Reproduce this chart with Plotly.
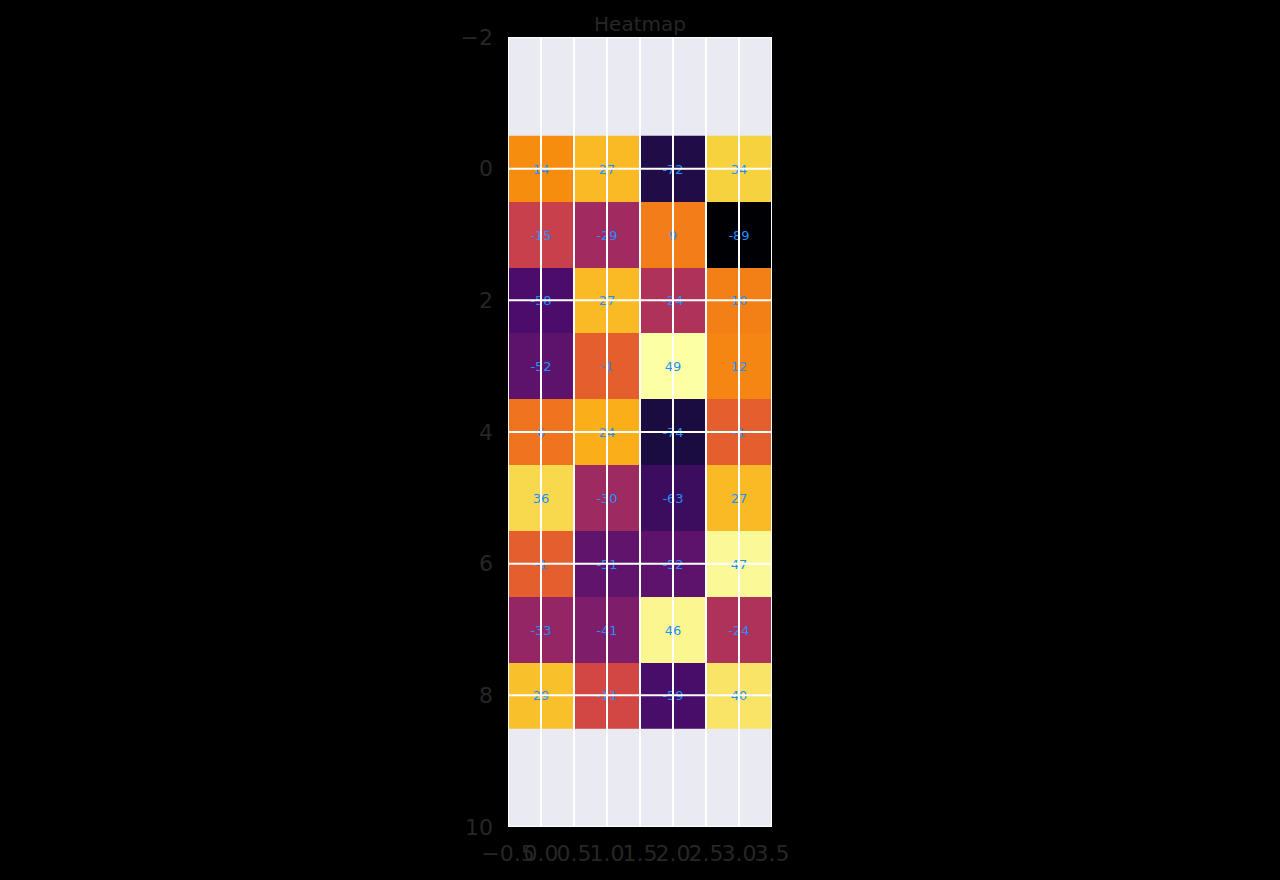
import plotly.graph_objects as go

# Data: 9 rows x 4 columns
row_index = [0, 1, 2, 3, 4, 5, 6, 7, 8]
col_index = [0, 1, 2, 3]
values = [
    [14, 27, -72, 34],
    [-15, -29, 9, -89],
    [-58, 27, -24, 10],
    [-52, -1, 49, 12],
    [6, 24, -74, -1],
    [36, -30, -63, 27],
    [-1, -51, -52, 47],
    [-33, -41, 46, -24],
    [29, -11, -59, 40],
]
x_ticks = [-0.5, 0.0, 0.5, 1.0, 1.5, 2.0, 2.5, 3.0, 3.5]
y_ticks = [-2, 0, 2, 4, 6, 8, 10]

labels = [[str(v) for v in row] for row in values]

FONT = "DejaVu Sans"
TICK_COLOR = "#262626"

fig = go.Figure()
fig.add_trace(go.Heatmap(
    z=values,
    x=col_index,
    y=row_index,
    text=labels,
    texttemplate="%{text}",
    textfont=dict(family=FONT, size=13, color="#1e90ff"),
    colorscale="Inferno",
    zmin=min(min(r) for r in values),
    zmax=max(max(r) for r in values),
    showscale=False,
    hoverinfo="skip",
))

# gridlines drawn above the cells (as in the reference)
shapes = []
for xv in x_ticks:
    shapes.append(dict(type="line", xref="x", yref="paper", x0=xv, x1=xv, y0=0, y1=1,
                       line=dict(color="white", width=2), layer="above"))
for yv in y_ticks:
    shapes.append(dict(type="line", xref="paper", yref="y", x0=0, x1=1, y0=yv, y1=yv,
                       line=dict(color="white", width=2), layer="above"))

fig.update_layout(
    width=1280, height=880,
    paper_bgcolor="black",
    plot_bgcolor="#eaeaf2",
    margin=dict(l=508, r=508, t=37, b=53, autoexpand=False),
    title=dict(text="Heatmap", x=0.5, xanchor="center", y=0.973, yanchor="middle",
               font=dict(family=FONT, size=20, color=TICK_COLOR)),
    font=dict(family=FONT, color=TICK_COLOR),
    shapes=shapes,
    xaxis=dict(range=[-0.5, 3.5], tickvals=x_ticks, tickformat=".1f",
               showgrid=False, zeroline=False, showline=False, ticks="",
               tickangle=0, automargin=False,
               tickfont=dict(family=FONT, size=22, color=TICK_COLOR),
               ticklabelstandoff=11),
    yaxis=dict(range=[10, -2], tickvals=y_ticks, tickformat="d",
               showgrid=False, zeroline=False, showline=False, ticks="",
               automargin=False,
               tickfont=dict(family=FONT, size=22, color=TICK_COLOR),
               ticklabelstandoff=14),
)

fig.write_html("out.html",
               config={"displayModeBar": False},
               post_script="document.body.style.margin='0';document.body.style.background='black';")
